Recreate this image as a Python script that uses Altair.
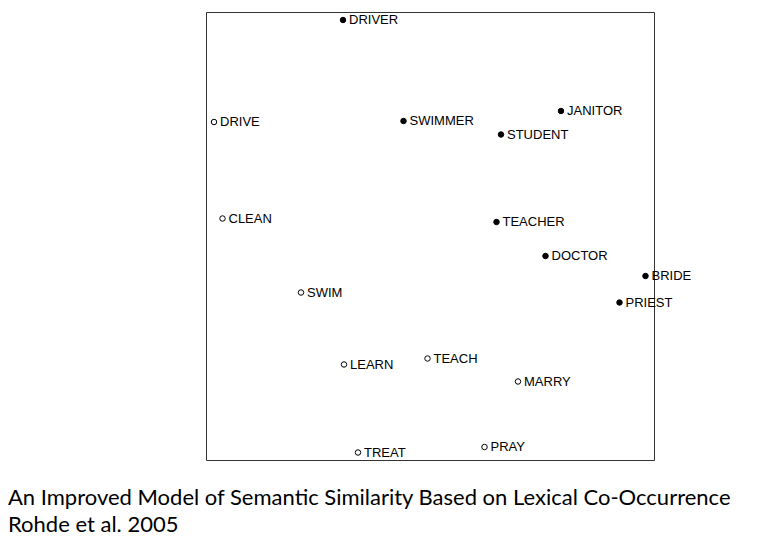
import altair as alt
import pandas as pd

words = ["DRIVER", "DRIVE", "SWIMMER", "JANITOR", "STUDENT", "CLEAN", "TEACHER", "DOCTOR",
         "BRIDE", "PRIEST", "SWIM", "LEARN", "TEACH", "MARRY", "TREAT", "PRAY"]
xs = [137, 8, 197.5, 355, 295, 16.5, 290.5, 339.5, 439.5, 413.5, 95, 138, 221.5, 312, 152, 278.5]
ys = [440, 338, 339, 349, 325.5, 241.5, 238, 204, 184, 157.5, 167.5, 95.5, 101.5, 78.5, 7.5, 13]
kinds = ["noun", "verb", "noun", "noun", "noun", "verb", "noun", "noun",
         "noun", "noun", "verb", "verb", "verb", "verb", "verb", "verb"]

caption_lines = ["An Improved Model of Semantic Similarity Based on Lexical Co-Occurrence",
                 "Rohde et al. 2005"]

df = pd.DataFrame({"word": words, "x": xs, "y": ys, "kind": kinds})

xscale = alt.Scale(domain=[0, 448], nice=False, zero=False)
yscale = alt.Scale(domain=[0, 448], nice=False, zero=False)

base = alt.Chart(df).encode(
    x=alt.X("x:Q", scale=xscale, axis=None),
    y=alt.Y("y:Q", scale=yscale, axis=None),
)

points = base.mark_circle(size=30, opacity=1, stroke="black", strokeWidth=1).encode(
    fill=alt.Fill("kind:N", scale=alt.Scale(domain=["noun", "verb"], range=["black", "white"]), legend=None)
)

labels = base.mark_text(align="left", baseline="middle", dx=6, fontSize=13,
                        font="Liberation Sans", color="black").encode(text="word:N")

cap_df = pd.DataFrame({"line": caption_lines, "row": [0, 1]})
cap1 = alt.Chart(cap_df[cap_df.row == 0]).mark_text(
    align="left", baseline="alphabetic", fontSize=22, font="Lato", color="black"
).encode(x=alt.value(-198), y=alt.value(493), text="line:N")
cap2 = alt.Chart(cap_df[cap_df.row == 1]).mark_text(
    align="left", baseline="alphabetic", fontSize=22, font="Lato", color="black"
).encode(x=alt.value(-198), y=alt.value(520), text="line:N")

chart = alt.layer(points, labels, cap1, cap2).properties(
    width=448, height=448,
    padding={"left": 198, "top": 4, "right": 115, "bottom": 76},
    autosize=alt.AutoSizeParams(type="none"),
).configure_view(stroke="#333", strokeWidth=1)

chart.save("out.html", embed_options={"renderer": "svg", "actions": False})
